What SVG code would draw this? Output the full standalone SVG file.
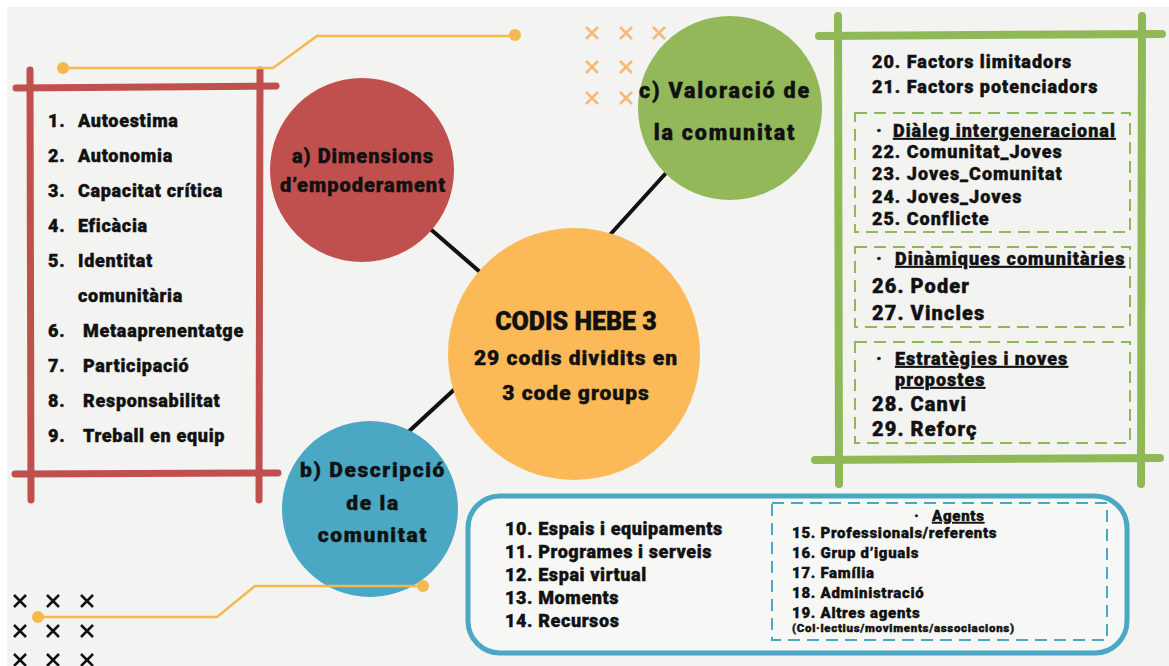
<svg xmlns="http://www.w3.org/2000/svg" width="1169" height="666" viewBox="0 0 1169 666">
<style>
.t{font-family:Roboto,"Liberation Sans",sans-serif;font-weight:900;fill:#111;stroke:#111;stroke-width:0.4}
.c{text-anchor:middle}
.l{font-size:18px;letter-spacing:0.7px}
.g{font-size:18px;letter-spacing:1px}
.gb{font-size:20px;letter-spacing:1.1px}
.b{font-size:18px;letter-spacing:0.6px}
.ag{font-size:15px;letter-spacing:0.7px}
.red{stroke:#c0504d;stroke-width:7;stroke-linecap:round;fill:none}
.grn{stroke:#8fb956;stroke-width:8;stroke-linecap:round;fill:none}
.gd{stroke:#8fb956;stroke-width:2;stroke-dasharray:12 7;fill:none}
.bd{stroke:#4aa8c4;stroke-width:2;stroke-dasharray:12 7;fill:none}
.deco{stroke:#f5b84f;stroke-width:2.5;fill:none}
.xo{stroke:#f6b976;stroke-width:2.5}
.xb{stroke:#111;stroke-width:2.5}
.conn{stroke:#111;stroke-width:4}
</style>
<rect width="1169" height="666" fill="#ffffff"/>
<rect x="7" y="7" width="1162" height="659" fill="#f3f3f2"/>

<g id="connectors">
<line class="conn" x1="420" y1="220" x2="495" y2="285"/>
<line class="conn" x1="676" y1="162" x2="598" y2="248"/>
<line class="conn" x1="405" y1="435" x2="470" y2="375"/>
</g>

<g id="deco-x-top">
<path class="xo" d="M586 27l12 12M598 27l-12 12M620 27l12 12M632 27l-12 12M653 27l12 12M665 27l-12 12M586 61l12 12M598 61l-12 12M620 61l12 12M632 61l-12 12M586 92l12 12M598 92l-12 12M620 92l12 12M632 92l-12 12"/>
</g>
<g id="deco-x-bottom">
<path class="xb" d="M14 595l12 12M26 595l-12 12M47 595l12 12M59 595l-12 12M81 595l12 12M93 595l-12 12M14 625l12 12M26 625l-12 12M47 625l12 12M59 625l-12 12M81 625l12 12M93 625l-12 12M14 654l12 12M26 654l-12 12M47 654l12 12M59 654l-12 12M81 654l12 12M93 654l-12 12"/>
</g>

<g id="red-frame">
<line class="red" x1="30" y1="70" x2="31" y2="500"/>
<line class="red" x1="260" y1="70" x2="259" y2="500"/>
<line class="red" x1="16" y1="88" x2="276" y2="86"/>
<line class="red" x1="15" y1="474" x2="278" y2="473"/>
<text class="t l" x="48" y="127">1.</text><text class="t l" x="78" y="127">Autoestima</text>
<text class="t l" x="48" y="162">2.</text><text class="t l" x="78" y="162">Autonomia</text>
<text class="t l" x="48" y="197">3.</text><text class="t l" x="78" y="197">Capacitat crítica</text>
<text class="t l" x="48" y="232">4.</text><text class="t l" x="78" y="232">Eficàcia</text>
<text class="t l" x="48" y="267">5.</text><text class="t l" x="78" y="267">Identitat</text>
<text class="t l" x="78" y="302">comunitària</text>
<text class="t l" x="48" y="337">6.</text><text class="t l" x="83" y="337">Metaaprenentatge</text>
<text class="t l" x="48" y="372">7.</text><text class="t l" x="83" y="372">Participació</text>
<text class="t l" x="48" y="407">8.</text><text class="t l" x="83" y="407">Responsabilitat</text>
<text class="t l" x="48" y="442">9.</text><text class="t l" x="83" y="442">Treball en equip</text>
</g>

<g id="node-a">
<circle cx="362" cy="170" r="92" fill="#c0504d"/>
<text class="t c" font-size="20" letter-spacing="1" x="363" y="163">a) Dimensions</text>
<text class="t c" font-size="20" letter-spacing="1" x="363" y="192">d’empoderament</text>
</g>

<g id="node-c">
<circle cx="730" cy="108" r="92" fill="#93b85a"/>
<text class="t c" font-size="21.5" letter-spacing="1.8" x="725" y="98">c) Valoració de</text>
<text class="t c" font-size="21.5" letter-spacing="1.8" x="725" y="140">la comunitat</text>
</g>

<g id="node-center">
<circle cx="574" cy="354" r="126" fill="#fbb957"/>
<text class="t c" font-size="25" x="576" y="330">CODIS HEBE 3</text>
<text class="t c" font-size="21" letter-spacing="1" x="576" y="365">29 codis dividits en</text>
<text class="t c" font-size="21" letter-spacing="1" x="576" y="400">3 code groups</text>
</g>

<g id="node-b">
<circle cx="370" cy="509" r="88" fill="#4aa8c4"/>
<text class="t c" font-size="21" letter-spacing="1.6" x="373" y="477">b) Descripció</text>
<text class="t c" font-size="21" letter-spacing="1.6" x="373" y="510">de la</text>
<text class="t c" font-size="21" letter-spacing="1.6" x="373" y="542">comunitat</text>
</g>

<g id="deco-lines">
<path class="deco" d="M63 68H273L317 36H515"/>
<circle cx="63" cy="68" r="6" fill="#f5b84f"/>
<circle cx="515" cy="35" r="6" fill="#f5b84f"/>
<path class="deco" d="M38 617H217L255 586H423"/>
<circle cx="38" cy="617" r="6" fill="#f5b84f"/>
<circle cx="423" cy="586" r="6" fill="#f5b84f"/>
</g>

<g id="green-frame">
<line class="grn" x1="838" y1="16" x2="839" y2="484"/>
<line class="grn" x1="1142" y1="16" x2="1141" y2="484"/>
<line class="grn" x1="819" y1="36" x2="1162" y2="34"/>
<line class="grn" x1="815" y1="460" x2="1160" y2="458"/>
<text class="t g" x="872" y="68">20. Factors limitadors</text>
<text class="t g" x="872" y="93">21. Factors potenciadors</text>
<rect class="gd" x="855" y="113" width="275" height="119"/>
<text class="t g" x="876" y="137">·</text>
<text class="t g" x="893" y="137" text-decoration="underline">Diàleg intergeneracional</text>
<text class="t g" x="872" y="158">22. Comunitat_Joves</text>
<text class="t g" x="872" y="180">23. Joves_Comunitat</text>
<text class="t g" x="872" y="203">24. Joves_Joves</text>
<text class="t g" x="872" y="225">25. Conflicte</text>
<rect class="gd" x="855" y="247" width="275" height="80"/>
<text class="t g" x="876" y="265">·</text>
<text class="t g" x="895" y="265" text-decoration="underline">Dinàmiques comunitàries</text>
<text class="t gb" x="872" y="293">26. Poder</text>
<text class="t gb" x="872" y="320">27. Vincles</text>
<rect class="gd" x="855" y="342" width="275" height="101"/>
<text class="t g" x="876" y="365">·</text>
<text class="t g" x="895" y="365" text-decoration="underline">Estratègies i noves</text>
<text class="t g" x="895" y="386" text-decoration="underline">propostes</text>
<text class="t gb" x="872" y="411">28. Canvi</text>
<text class="t gb" x="872" y="436">29. Reforç</text>
</g>

<g id="blue-box">
<rect x="468" y="496" width="659" height="157" rx="32" fill="#f7f7f6" stroke="#4aa8c4" stroke-width="5"/>
<text class="t b" x="505" y="535">10. Espais i equipaments</text>
<text class="t b" x="505" y="558">11. Programes i serveis</text>
<text class="t b" x="505" y="581">12. Espai virtual</text>
<text class="t b" x="505" y="604">13. Moments</text>
<text class="t b" x="505" y="627">14. Recursos</text>
<rect class="bd" x="772" y="503" width="335" height="137"/>
<text class="t ag" x="914" y="521">·</text>
<text class="t ag" x="932" y="521" text-decoration="underline">Agents</text>
<text class="t ag" x="792" y="538">15. Professionals/referents</text>
<text class="t ag" x="792" y="558">16. Grup d’iguals</text>
<text class="t ag" x="792" y="578">17. Família</text>
<text class="t ag" x="792" y="598">18. Administració</text>
<text class="t ag" x="792" y="618">19. Altres agents</text>
<text class="t" font-size="11.5" letter-spacing="0.7" x="792" y="632">(Col·lectius/moviments/associacions)</text>
</g>
</svg>
